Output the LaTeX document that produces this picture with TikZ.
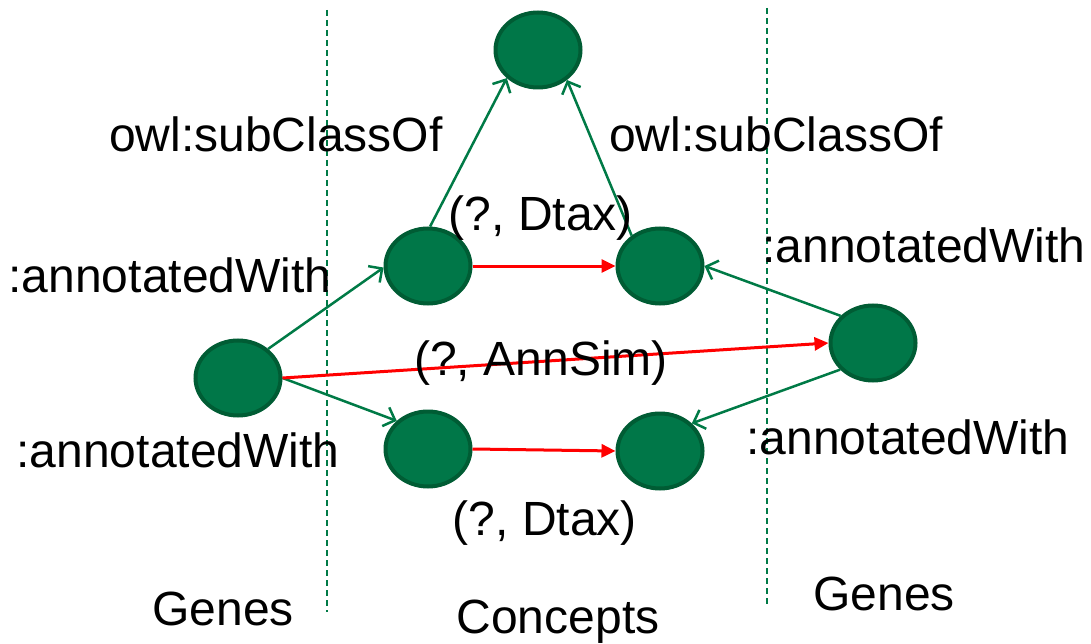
\documentclass[tikz,border=0pt]{standalone}
\usepackage{fontspec}
\setmainfont{Liberation Sans}
\usetikzlibrary{arrows.meta,shapes.geometric}
\definecolor{nodefill}{RGB}{0,119,72}
\definecolor{nodeborder}{RGB}{0,92,52}
\definecolor{linkgreen}{RGB}{0,122,70}
\definecolor{linkred}{RGB}{255,0,0}
\tikzset{
  concept/.style={ellipse, draw=nodeborder, fill=nodefill, line width=4pt, minimum width=85pt, minimum height=75pt, inner sep=0pt},
  greenlink/.style={draw=linkgreen, line width=2.5pt, -{Straight Barb[length=10pt,width=20pt,line width=2.5pt]}},
  redlink/.style={draw=linkred, line width=3pt, -{Triangle[length=14pt,width=13pt]}},
  divider/.style={draw=linkgreen, line width=1.8pt, dash pattern=on 6pt off 4pt},
  lbl/.style={font=\fontsize{48}{52}\selectfont, anchor=base, inner sep=0pt, text=black}
}
\begin{document}
\begin{tikzpicture}[x=1pt,y=-1pt]
\useasboundingbox (0,0) rectangle (1091,644);
% dividers
\coordinate (d1t) at (327,10);
\coordinate (d1b) at (327,612);
\coordinate (d2t) at (767,8);
\coordinate (d2b) at (767,606);
\draw[divider] (d1t) -- (d1b);
\draw[divider] (d2t) -- (d2b);
% nodes
\node[concept] (top) at (538,50) {};
\node[concept] (a1) at (428,266) {};
\node[concept] (b1) at (660,266) {};
\node[concept] (c1) at (428,449) {};
\node[concept] (c2) at (660,451) {};
\node[concept] (g1) at (238,378) {};
\node[concept] (g2) at (873,343) {};
% green links
\draw[greenlink] (a1.87) -- (top.222);
\draw[greenlink] (b1.133) -- (top.314);
\draw[greenlink] (g1.44) -- (a1.182);
\draw[greenlink] (g1.east) -- (c1.138);
\draw[greenlink] (g2.140) -- (b1.east);
\draw[greenlink] (g2.219) -- (c2.41);
% red links
\draw[redlink] (a1.east) -- (b1.west);
\draw[redlink] (c1.east) -- (c2.west);
\draw[redlink] (g1.east) -- (g2.west);
% labels
\node[lbl] (l1) at (276,152) {owl:subClassOf};
\node[lbl] (l2) at (776,152) {owl:subClassOf};
\node[lbl] (l3) at (541,230) {(?, Dtax)};
\node[lbl] (l4) at (170,292) {:annotatedWith};
\node[lbl] (l5) at (924,262) {:annotatedWith};
\node[lbl] (l6) at (541,375) {(?, AnnSim)};
\node[lbl] (l7) at (178,467) {:annotatedWith};
\node[lbl] (l8) at (908,454) {:annotatedWith};
\node[lbl] (l9) at (545,535) {(?, Dtax)};
\node[lbl] (l10) at (223,625) {Genes};
\node[lbl] (l11) at (558,633) {Concepts};
\node[lbl] (l12) at (884,610) {Genes};
\end{tikzpicture}
\end{document}
